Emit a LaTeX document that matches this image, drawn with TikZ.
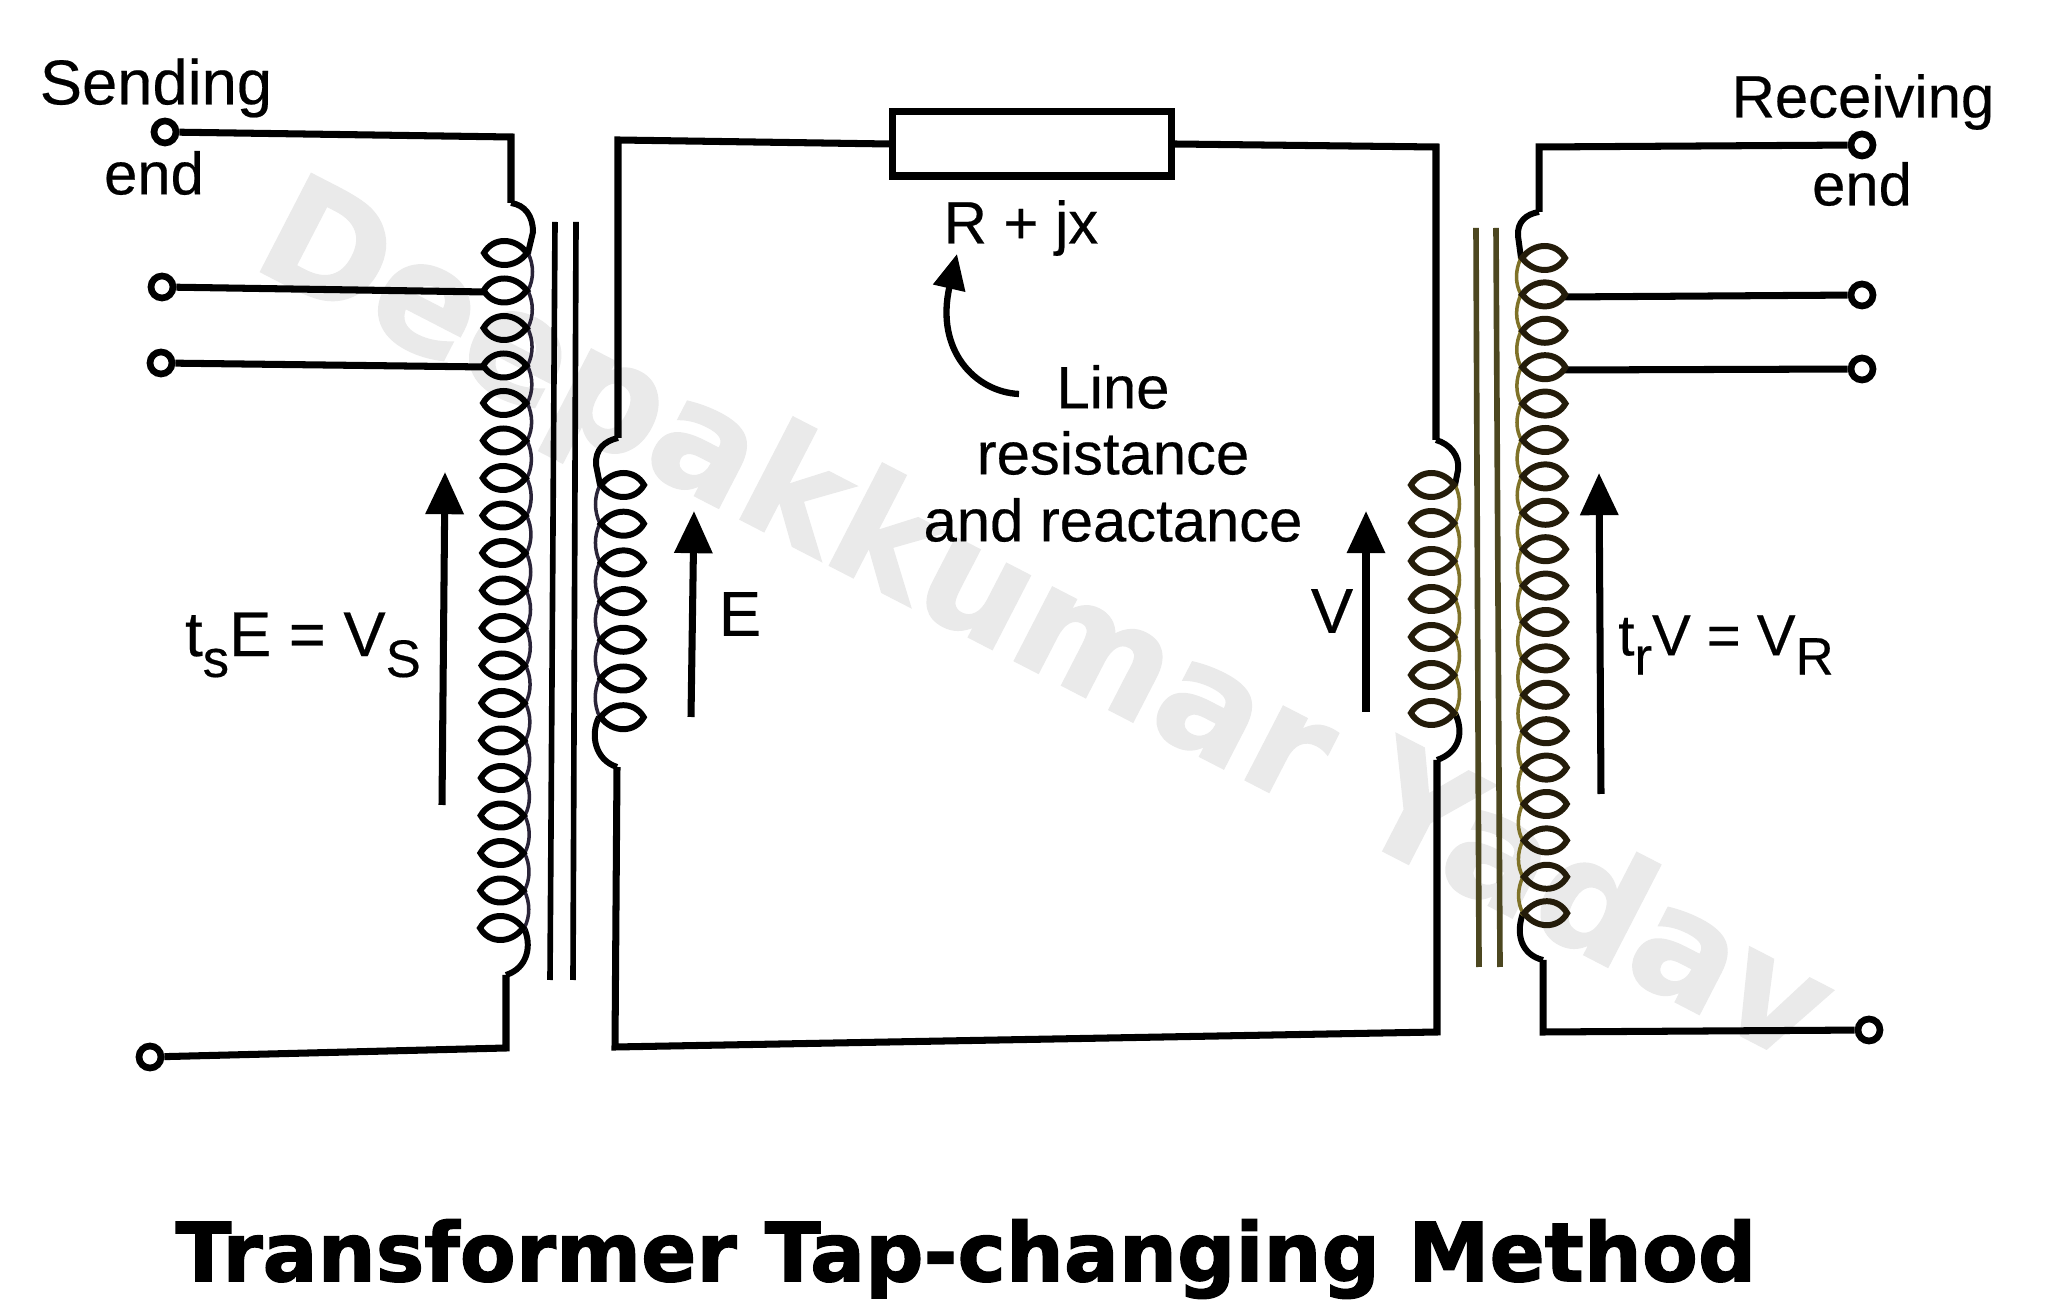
\documentclass[tikz,border=0pt]{standalone}
\usepackage{fontspec}
\setmainfont{Liberation Sans}
\newfontfamily\labelfont{Liberation Sans}[FakeBold=0.35]
\newfontfamily\titlefont{DejaVu Sans Bold}[FakeBold=1.6]
\newfontfamily\markfont{DejaVu Sans Bold}[FakeBold=1.2]
\usetikzlibrary{arrows.meta}

\definecolor{wmgray}{HTML}{EAEAEA}
\definecolor{leftspine}{HTML}{2A2438}
\definecolor{rightspine}{HTML}{7F7228}
\definecolor{rightloop}{HTML}{241C0A}
\definecolor{rightcore}{HTML}{4C4720}

\tikzset{
    wire/.style={line width=2pt,line join=miter},
    corewire/.style={line width=1.6pt},
    loopwire/.style={line width=1.7pt},
    spinewire/.style={line width=1pt},
    terminal/.style={draw,circle,line width=1.9pt,fill=white,inner sep=0pt,minimum size=0.22cm},
    resbox/.style={draw,line width=2pt,fill=white,inner sep=0pt,minimum width=2.78cm,minimum height=0.64cm},
    lbl/.style={inner sep=0pt,font=\labelfont\fontsize{17}{19}\selectfont},
    biglbl/.style={inner sep=0pt,font=\labelfont\fontsize{18}{20}\selectfont},
    volt/.style={line width=2pt,-{Triangle[length=12pt,width=10.5pt]}}
}

\newcommand{\subtxt}[1]{\raisebox{-0.33em}{\fontsize{15}{15}\selectfont #1}}

% #1 first x, #2 drift per turn, #3 first y, #4 y step, #5 last turn, #6 spine side, #7 loop colour, #8 spine colour
\newcommand{\drawcoil}[8]{
    \foreach \i in {0,...,#5} {
        \pgfmathsetmacro\cx{#1+#2*\i}
        \pgfmathsetmacro\cy{#3+#4*\i}
        \begin{scope}[shift={(\cx,\cy)},xscale=#6]
            \draw [spinewire,#8] (20,-2) -- (24,2);
            \ifnum\i<#5
                \draw [spinewire,#8] (22,0) .. controls (28,12) and (28,26) .. (22,#4);
            \fi
            \draw [loopwire,#7] (-22,0) .. controls (-13,-16) and (9,-16) .. (21,0)
                .. controls (9,16) and (-13,16) .. (-22,0) -- cycle;
        \end{scope}
    }
}

\begin{document}
\begin{tikzpicture}[x=0.01cm,y=-0.01cm]
    \useasboundingbox (0,0) rectangle (2048,1301);
    \fill [white] (0,0) rectangle (2048,1301);

    \node (mark) [rotate=-27.3,text=wmgray,inner sep=0pt,font=\markfont\fontsize{43}{43}\selectfont] at (1042,628) {Deepakkumar Yadav};

    \node (sendA) [terminal] at (165,132) {};
    \node (sendB) [terminal] at (162,287) {};
    \node (sendC) [terminal] at (161,363) {};
    \node (sendD) [terminal] at (150,1057) {};
    \node (recvA) [terminal] at (1862,145) {};
    \node (recvB) [terminal] at (1862,295) {};
    \node (recvC) [terminal] at (1862,369) {};
    \node (recvD) [terminal] at (1869,1030) {};
    \node (res) [resbox] at (1032,144) {};

    \coordinate (tapA) at (486,292);
    \coordinate (tapB) at (486,367);
    \coordinate (tapC) at (1562,297);
    \coordinate (tapD) at (1562,370);

    \draw [wire] (sendA) -- (511,137) -- (511,203);
    \draw [wire] (sendD) -- (506,1048) -- (506,975);
    \draw [wire] (sendB) -- (tapA);
    \draw [wire] (sendC) -- (tapB);
    \draw [wire] (res.west) -- (618,140) -- (618,438);
    \draw [wire] (res.east) -- (1436,147) -- (1436,440);
    \draw [wire] (617,767) -- (615,1047) -- (1437,1032) -- (1437,760);
    \draw [wire] (recvA) -- (1539,147) -- (1539,212);
    \draw [wire] (recvD) -- (1543,1032) -- (1543,960);
    \draw [wire] (recvB) -- (tapC);
    \draw [wire] (recvC) -- (tapD);

    \draw [loopwire] (511,203) .. controls (525,205) and (533,216) .. (533,232) -- (528,253);
    \draw [loopwire] (524,928) .. controls (532,945) and (528,968) .. (506,975);
    \draw [loopwire] (618,438) .. controls (604,441) and (595,450) .. (596,465) -- (600,485);
    \draw [loopwire] (599,717) .. controls (590,735) and (595,760) .. (617,767);
    \draw [loopwire] (1436,440) .. controls (1450,444) and (1460,456) .. (1458,470) -- (1455,485);
    \draw [loopwire] (1455,713) .. controls (1464,732) and (1460,752) .. (1437,760);
    \draw [loopwire] (1539,212) .. controls (1526,214) and (1517,222) .. (1518,236) -- (1521,258);
    \draw [loopwire] (1523,913) .. controls (1515,935) and (1522,955) .. (1543,960);

    \drawcoil{506}{-0.22}{253}{37.5}{18}{1}{black}{leftspine}
    \drawcoil{622}{-0.05}{485}{38.7}{6}{-1}{black}{leftspine}
    \drawcoil{1433}{0}{485}{38}{6}{1}{rightloop}{rightspine}
    \drawcoil{1543}{0.12}{258}{36.4}{18}{-1}{rightloop}{rightspine}

    \draw [corewire] (555,222) -- (550,980);
    \draw [corewire] (576,222) -- (573,980);
    \draw [corewire,rightcore] (1476,228) -- (1479,967);
    \draw [corewire,rightcore] (1496,228) -- (1500,967);

    \coordinate (tailA) at (442,805);
    \coordinate (tipA) at (445,472);
    \coordinate (tailB) at (691,717);
    \coordinate (tipB) at (694,511);
    \coordinate (tailC) at (1366,712);
    \coordinate (tipC) at (1366,511);
    \coordinate (tailD) at (1601,794);
    \coordinate (tipD) at (1599,473);
    \coordinate (tailE) at (1019,394);
    \coordinate (tipE) at (957,254);

    \draw [volt] (tailA) -- (tipA);
    \draw [volt] (tailB) -- (tipB);
    \draw [volt] (tailC) -- (tipC);
    \draw [volt] (tailD) -- (tipD);
    \draw [line width=1.8pt,-{Triangle[length=10pt,width=9pt]}] (tailE) .. controls (975,392) and (935,350) .. (tipE);

    \node (sending) [biglbl] at (156,88) {Sending};
    \node (sendend) [lbl] at (154,173) {end};
    \node (receiving) [lbl] at (1863,102) {Receiving};
    \node (recvend) [lbl] at (1862,184) {end};
    \node (rjx) [lbl] at (1021,228) {R + jx};
    \node (line) [lbl] at (1113,387) {Line};
    \node (resist) [lbl] at (1113,453) {resistance};
    \node (react) [lbl] at (1113,520) {and reactance};
    \node (vs) [biglbl] at (303,645) {t\subtxt{s}E = V\subtxt{S}};
    \node (e) [biglbl] at (740,614) {E};
    \node (v) [biglbl] at (1332,611) {V};
    \node (vr) [lbl,font=\labelfont\fontsize{16.5}{18}\selectfont] at (1726,645) {t\subtxt{r}V = V\subtxt{R}};

    \node (title) [inner sep=0pt,font=\titlefont\fontsize{23.2}{25}\selectfont] at (966,1259) {Transformer Tap-changing Method};
\end{tikzpicture}
\end{document}
